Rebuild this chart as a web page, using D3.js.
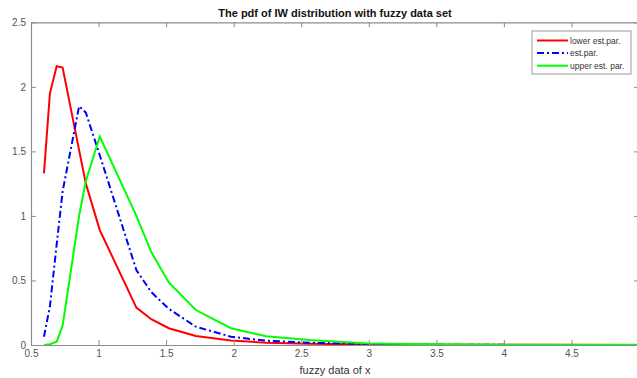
<!DOCTYPE html>
<html>
<head>
<meta charset="utf-8">
<script src="https://cdn.jsdelivr.net/npm/d3@7"></script>
<style>
  body { margin: 0; background: #fff; }
  svg { display: block; font-family: 'Liberation Sans', Arial, sans-serif; }
</style>
</head>
<body>
<div id="chart"></div>
<script>
// data
const xData = [0.596, 0.64, 0.69, 0.734, 0.856, 0.906, 1.009, 1.28, 1.39, 1.52, 1.72, 1.98, 2.24, 2.56, 3.0, 3.5, 4.0, 5.0]
const lowerPdf = [1.33, 1.95, 2.16, 2.15, 1.51, 1.25, 0.89, 0.29, 0.2, 0.13, 0.07, 0.035, 0.018, 0.01, 0.004, 0.002, 0.001, 0]
const estPdf = [0.064, 0.30, 0.78, 1.19, 1.85, 1.80, 1.47, 0.58, 0.41, 0.28, 0.142, 0.064, 0.033, 0.018, 0.007, 0.003, 0.001, 0]
const upperPdf = [0.0, 0.006, 0.025, 0.15, 1.0, 1.27, 1.615, 1.0, 0.72, 0.485, 0.271, 0.13, 0.068, 0.039, 0.012, 0.005, 0.002, 0.001]

const seriesNames = ['lower est.par.', 'est.par.', 'upper est. par.']
const xTicks = [0.5, 1, 1.5, 2, 2.5, 3, 3.5, 4, 4.5, 5]
const yTicks = [0, 0.5, 1, 1.5, 2, 2.5]

const W = 637, H = 378
const margin = { top: 22.3, right: -2, bottom: 33, left: 31 }

const svg = d3.select('#chart').append('svg')
  .attr('width', W)
  .attr('height', H)

const x = d3.scaleLinear().domain([0.5, 5]).range([margin.left, W - margin.right])
const y = d3.scaleLinear().domain([0, 2.5]).range([H - margin.bottom, margin.top])

const axisColor = '#8c8c8c'
const labelColor = '#555'

// series
const series = [
  { name: seriesNames[0], values: lowerPdf, color: '#ff0000', dash: null },
  { name: seriesNames[1], values: estPdf, color: '#0000ff', dash: '7,3,2,3' },
  { name: seriesNames[2], values: upperPdf, color: '#00ff00', dash: null }
]

const line = d3.line()
  .x((d, i) => x(xData[i]))
  .y(d => y(d))

const plot = svg.append('g')

series.forEach(s => {
  plot.append('path')
    .datum(s.values)
    .attr('fill', 'none')
    .attr('stroke', s.color)
    .attr('stroke-width', 2)
    .attr('stroke-dasharray', s.dash)
    .attr('d', line)
})

// axes (ticks point inward, like matlab)
const styleAxis = g => {
  g.select('.domain').attr('stroke', axisColor).attr('stroke-width', 1.2)
  g.selectAll('.tick line').attr('stroke', axisColor)
  g.selectAll('.tick text').attr('fill', labelColor).attr('font-size', 10)
}

svg.append('g')
  .attr('transform', `translate(0,${y(0)})`)
  .call(d3.axisBottom(x).tickValues(xTicks).tickSize(-5).tickSizeOuter(0).tickPadding(5).tickFormat(d => String(d)))
  .call(styleAxis)

svg.append('g')
  .attr('transform', `translate(0,${y(2.5)})`)
  .call(d3.axisTop(x).tickValues(xTicks).tickSize(-5).tickSizeOuter(0).tickFormat(''))
  .call(styleAxis)

svg.append('g')
  .attr('transform', `translate(${x(0.5)},0)`)
  .call(d3.axisLeft(y).tickValues(yTicks).tickSize(-5).tickSizeOuter(0).tickPadding(5).tickFormat(d => String(d)))
  .call(styleAxis)

svg.append('g')
  .attr('transform', `translate(${x(5)},0)`)
  .call(d3.axisRight(y).tickValues(yTicks).tickSize(-5).tickSizeOuter(0).tickFormat(''))
  .call(styleAxis)

// title + x label
svg.append('text')
  .attr('x', (x(0.5) + x(5)) / 2)
  .attr('y', 17)
  .attr('text-anchor', 'middle')
  .attr('font-size', 11)
  .attr('font-weight', 'bold')
  .attr('fill', '#111')
  .text('The pdf of IW distribution with fuzzy data set')

svg.append('text')
  .attr('x', (x(0.5) + x(5)) / 2)
  .attr('y', 374)
  .attr('text-anchor', 'middle')
  .attr('font-size', 11)
  .attr('fill', '#333')
  .text('fuzzy data of x')

// legend
const legend = svg.append('g').attr('transform', 'translate(532,31)')
legend.append('rect')
  .attr('width', 99)
  .attr('height', 43)
  .attr('fill', '#fff')
  .attr('stroke', '#999')

series.forEach((s, i) => {
  const ly = 9.5 + i * 12.6
  legend.append('line')
    .attr('x1', 5).attr('x2', 36)
    .attr('y1', ly).attr('y2', ly)
    .attr('stroke', s.color)
    .attr('stroke-width', 2)
    .attr('stroke-dasharray', s.dash)
  legend.append('text')
    .attr('x', 38)
    .attr('y', ly + 3)
    .attr('font-size', 8.5)
    .attr('fill', '#333')
    .text(s.name)
})
</script>
</body>
</html>
